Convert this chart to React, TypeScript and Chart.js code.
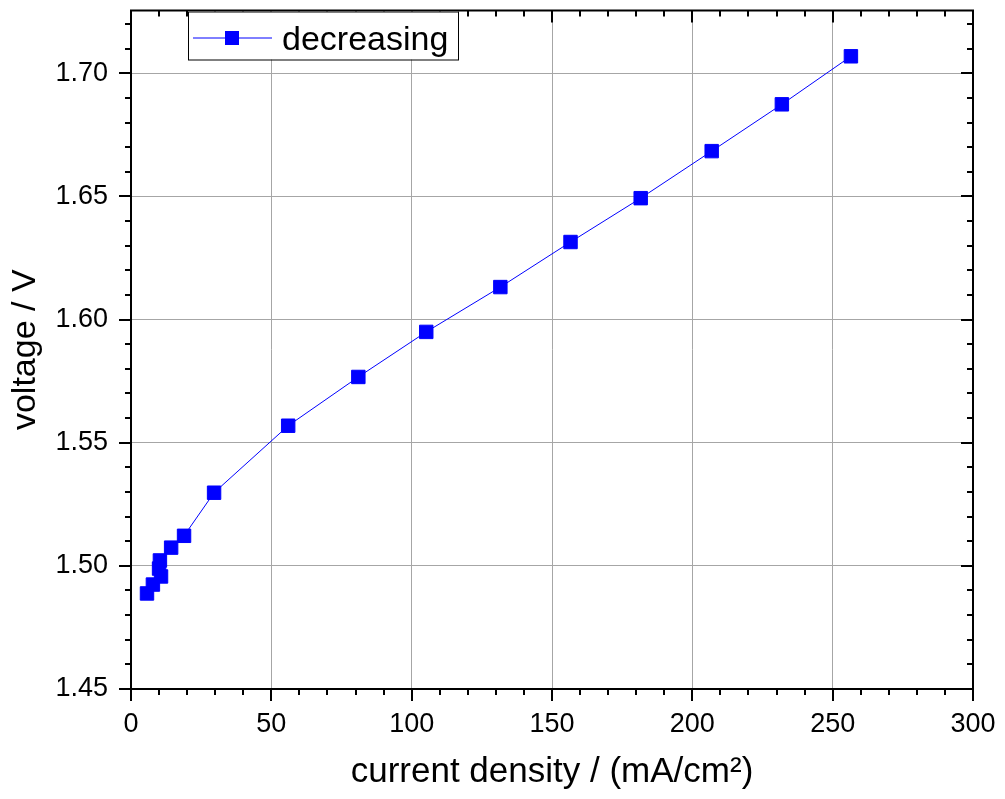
import React, { useEffect, useRef } from "react";
import { Chart, registerables } from "chart.js";

Chart.register(...registerables);

const seriesLabel = "decreasing";
const currentDensity = [256.5, 231.9, 206.9, 181.6, 156.6, 131.6, 105.2, 81.0, 56.0, 29.6, 18.9, 14.3, 10.3, 10.0, 10.7, 7.8, 5.7];
const voltage = [1.7069, 1.6874, 1.6684, 1.6493, 1.6315, 1.6132, 1.595, 1.5767, 1.5569, 1.5297, 1.5122, 1.5074, 1.5022, 1.4989, 1.4957, 1.4924, 1.4888];

const xTitle = "current density / (mA/cm²)";
const yTitle = "voltage / V";
const xMin = 0, xMax = 300, xStep = 50, xMinorStep = 10;
const yMin = 1.45, yMax = 1.7255, yStep = 0.05, yMinorStep = 0.01;

const FONT = "'Liberation Sans', Arial, sans-serif";
const BLUE = "#0000ff";

const zeroPad = (s: any) => {
  s.paddingTop = 0;
  s.paddingBottom = 0;
  s.paddingLeft = 0;
  s.paddingRight = 0;
};

const framePlugin = {
  id: "frame",
  afterDraw(chart: any) {
    const { ctx, chartArea } = chart;
    const { left, right, top, bottom } = chartArea;
    const xs = chart.scales.x;
    const ys = chart.scales.y;
    ctx.save();
    ctx.strokeStyle = "#000";
    ctx.lineWidth = 2;
    ctx.strokeRect(left, top, right - left, bottom - top);
    ctx.lineWidth = 2;
    ctx.beginPath();
    const nx = Math.round((xMax - xMin) / xMinorStep);
    for (let i = 0; i <= nx; i++) {
      const v = xMin + i * xMinorStep;
      const major = Math.abs(v / xStep - Math.round(v / xStep)) < 1e-6;
      const len = major ? 12 : 6;
      const px = Math.round(xs.getPixelForValue(v));
      ctx.moveTo(px, bottom);
      ctx.lineTo(px, bottom + len);
      ctx.moveTo(px, top);
      ctx.lineTo(px, top + len);
    }
    const ny = Math.floor((yMax - yMin) / yMinorStep + 1e-6);
    for (let i = 0; i <= ny; i++) {
      const v = yMin + i * yMinorStep;
      const major = Math.abs((v - yMin) / yStep - Math.round((v - yMin) / yStep)) < 1e-6;
      const len = major ? 12 : 6;
      const py = Math.round(ys.getPixelForValue(v));
      ctx.moveTo(left, py);
      ctx.lineTo(left - len, py);
      ctx.moveTo(right, py);
      ctx.lineTo(right - len, py);
    }
    ctx.stroke();

    // legend
    const ds = chart.data.datasets[0];
    const bx = left + 57, by = top + 1, bw = 270, bh = 48;
    ctx.fillStyle = "#fff";
    ctx.fillRect(bx, by, bw, bh);
    ctx.lineWidth = 1;
    ctx.strokeStyle = "#000";
    ctx.strokeRect(bx + 0.5, by + 0.5, bw, bh);
    const ly = by + 26.5;
    ctx.strokeStyle = BLUE;
    ctx.beginPath();
    ctx.moveTo(bx + 5, ly);
    ctx.lineTo(bx + 84, ly);
    ctx.stroke();
    ctx.fillStyle = BLUE;
    ctx.fillRect(bx + 37, ly - 7, 14, 14);
    ctx.fillStyle = "#000";
    ctx.font = `34px ${FONT}`;
    ctx.textBaseline = "alphabetic";
    ctx.textAlign = "left";
    ctx.fillText(ds.label, bx + 94, by + 38);
    ctx.restore();
  },
};

export default function App() {
  const ref = useRef<HTMLCanvasElement | null>(null);
  useEffect(() => {
    if (!ref.current) return;
    const chart = new Chart(ref.current, {
      type: "scatter",
      data: {
        datasets: [
          {
            label: seriesLabel,
            data: currentDensity.map((x, i) => ({ x, y: voltage[i] })),
            showLine: true,
            borderColor: BLUE,
            borderWidth: 1,
            backgroundColor: BLUE,
            pointBackgroundColor: BLUE,
            pointBorderColor: BLUE,
            pointBorderWidth: 1,
            pointStyle: "rect",
            pointRadius: 9.5,
            pointHoverRadius: 9.5,
          },
        ],
      },
      options: {
        animation: false,
        responsive: false,
        events: [],
        layout: { padding: { top: 9, right: 32, left: 0, bottom: 0 } },
        plugins: { legend: { display: false }, tooltip: { enabled: false } },
        scales: {
          x: {
            type: "linear",
            min: xMin,
            max: xMax,
            afterFit: (s: any) => { s.height = 110; zeroPad(s); },
            afterBuildTicks: (s: any) => {
              s.ticks = s.ticks.filter((t: any) => Math.abs(t.value / xStep - Math.round(t.value / xStep)) < 1e-6);
            },
            border: { display: false },
            grid: { color: "#a6a6a6", lineWidth: 1, drawTicks: false },
            ticks: {
              stepSize: xStep,
              padding: 19,
              color: "#000",
              font: { family: FONT, size: 27 },
              maxRotation: 0,
              callback: (v: any) => String(v),
            },
            title: {
              display: true,
              text: xTitle,
              color: "#000",
              font: { family: FONT, size: 35 },
              padding: { top: 0, bottom: 6 },
            },
          },
          y: {
            type: "linear",
            min: yMin,
            max: yMax,
            afterFit: (s: any) => { s.width = 131; zeroPad(s); },
            afterBuildTicks: (s: any) => {
              s.ticks = s.ticks.filter((t: any) => Math.abs((t.value - yMin) / yStep - Math.round((t.value - yMin) / yStep)) < 1e-6);
            },
            border: { display: false },
            grid: { color: "#a6a6a6", lineWidth: 1, drawTicks: false },
            ticks: {
              stepSize: yStep,
              padding: 23,
              color: "#000",
              font: { family: FONT, size: 27 },
              callback: (v: any) => Number(v).toFixed(2),
            },
            title: {
              display: true,
              text: yTitle,
              color: "#000",
              font: { family: FONT, size: 34 },
              padding: { top: 5, bottom: 0 },
            },
          },
        },
      },
      plugins: [framePlugin],
    });
    return () => chart.destroy();
  }, []);
  return (
    <div style={{ position: "fixed", left: 0, top: 0, width: 1005, height: 799, background: "#fff" }}>
      <canvas ref={ref} width={1005} height={799} style={{ display: "block" }} />
    </div>
  );
}
